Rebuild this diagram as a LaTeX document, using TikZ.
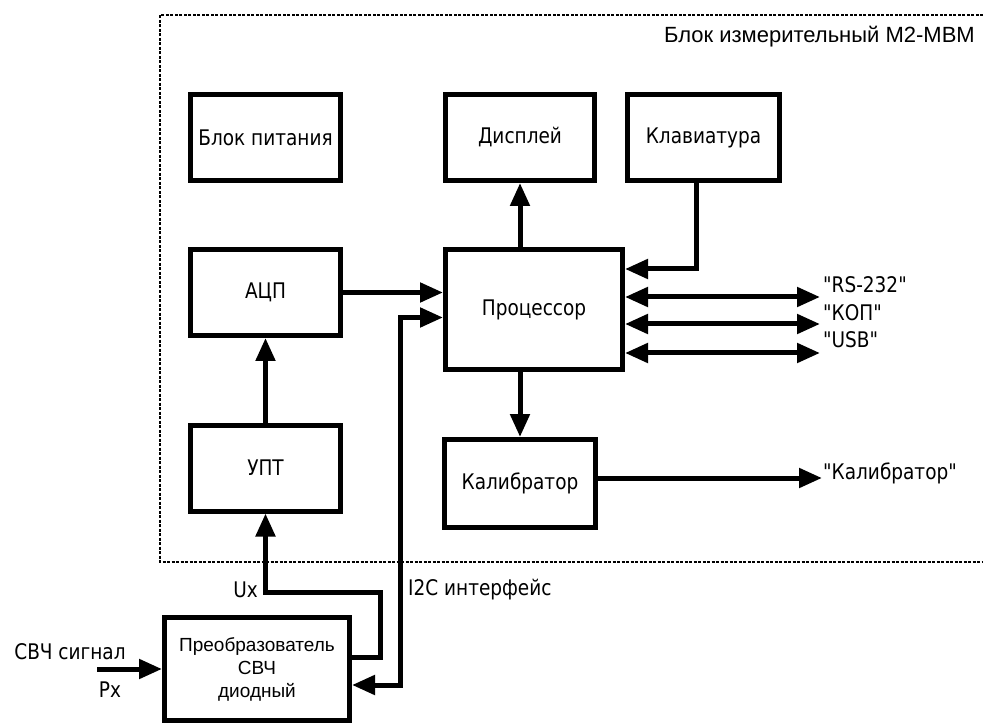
\documentclass[tikz,border=0pt]{standalone}
\usepackage{fontspec}
\setmainfont{DejaVu Sans}
\newfontfamily\tahomafont[FakeStretch=0.86]{DejaVu Sans}
\newfontfamily\arialfont{Liberation Sans}
\usetikzlibrary{arrows.meta,positioning}

\begin{document}
\begin{tikzpicture}[
x=1pt, y=-1pt,
block/.style={
  draw,
  line width=5pt,
  minimum width=150pt,
  minimum height=86pt,
  inner sep=2pt,
  align=center,
  font=\tahomafont\fontsize{21.5}{25}\selectfont
  },
lbl/.style={
  inner sep=0pt,
  font=\tahomafont\fontsize{21.5}{25}\selectfont
  },
link/.style={
  line width=5pt
  },
frame/.style={
  line width=1.8pt,
  dash pattern=on 3pt off 1.5pt
  },
>={Triangle[length=23pt,width=19pt]}
]
\useasboundingbox (0,0) rectangle (983,727);

% dashed border of the measuring unit
\draw[frame] (983,15) -- (160,15) -- (160,562) -- (983,562);
\node[anchor=east, inner sep=0pt, font=\arialfont\fontsize{22}{26}\selectfont] (title) at (975,37) {Блок измерительный М2-МВМ};

% blocks
\node[block] (pit) at (265.5,137.5) {Блок питания};
\node[block] (adc) at (265.5,292.5) {АЦП};
\node[block] (upt) at (265.5,468) {УПТ};
\node[block, minimum width=149pt] (disp) at (520,137.5) {Дисплей};
\node[block, minimum width=152pt] (kbd) at (703.5,137.5) {Клавиатура};
\node[block, minimum width=177pt, minimum height=120pt] (cpu) at (534,310) {Процессор};
\node[block, minimum width=151pt, minimum height=88pt] (cal) at (520,483.5) {Калибратор};
\node[block, minimum width=185pt, minimum height=103pt,
  font=\arialfont\fontsize{19}{23}\selectfont] (conv) at (257,669) {Преобразователь\\СВЧ\\диодный};

% free ends
\coordinate (rfin) at (97,669);
\coordinate (kbdin) at (696,269);
\coordinate (rs) at (820,297);
\coordinate (kop) at (820,324);
\coordinate (usb) at (820,353);
\coordinate (calout) at (822,478);
\coordinate (ux) at (380,592);
\coordinate (i2c) at (400,600);

% labels
\node[lbl, anchor=west] (rslbl) at (823,285) {"RS-232"};
\node[lbl, anchor=west] (koplbl) at (823,313) {"КОП"};
\node[lbl, anchor=west] (usblbl) at (823,340) {"USB"};
\node[lbl, anchor=west] (callbl) at (823,473) {"Калибратор"};
\node[lbl, anchor=east] (uxlbl) at (258,590) {Ux};
\node[lbl, anchor=west] (i2clbl) at (408,590) {I2C интерфейс};
\node[lbl] (rflbl) at (70,652) {СВЧ сигнал};
\node[lbl] (pxlbl) at (110,690) {Px};

% connections
\draw[link,->] (rfin) -- (conv.west);
\draw[link,->] ([yshift=12pt]conv.east) -| (ux) -| (upt.south);
\draw[link,<->] ([yshift=-16pt]conv.east) -| (i2c) |- ([yshift=-7.5pt]cpu.west);
\draw[link,->] (upt.north) -- (adc.south);
\draw[link,->] (adc.east) -- (adc.east -| cpu.west);
\draw[link,->] (disp.south |- cpu.north) -- (disp.south);
\draw[link,->] (kbdin |- kbd.south) |- (cpu.east |- kbdin);
\foreach \port in {rs,kop,usb}
  \draw[link,<->] (cpu.east |- \port) -- (\port);
\draw[link,->] (cal.north |- cpu.south) -- (cal.north);
\draw[link,->] (cal.east |- calout) -- (calout);

\end{tikzpicture}
\end{document}
